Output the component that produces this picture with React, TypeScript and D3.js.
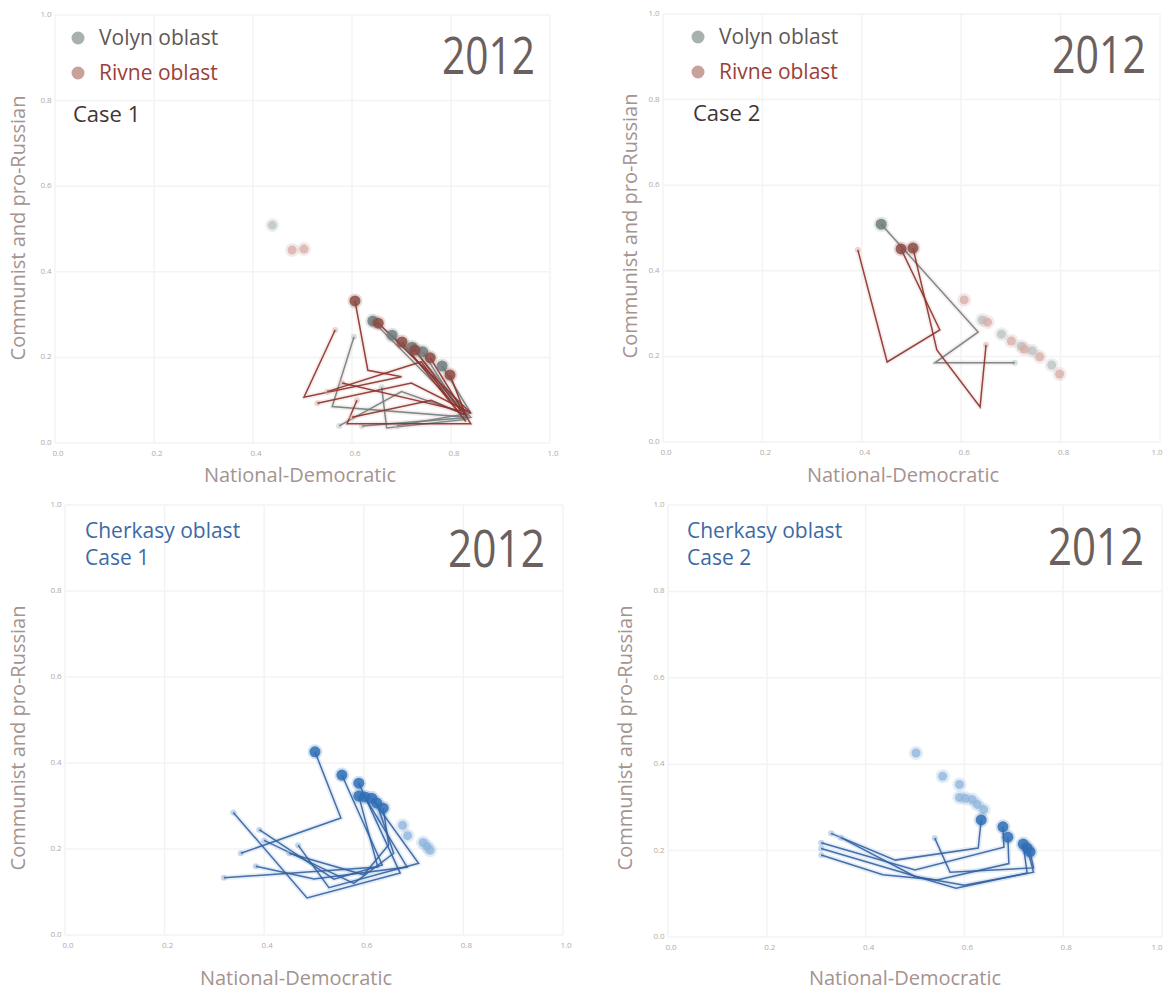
import React from "react";
import * as d3 from "d3";

type Pt = [number, number];
type Traj = Pt[];

const ticks = [0, 0.2, 0.4, 0.6, 0.8, 1.0];
const yearLabel = "2012";
const xTitle = "National-Democratic";
const yTitle = "Communist and pro-Russian";

// Volyn / Rivne, case 1 (oldest -> 2012)
const volynCase1: Traj[] = [
  [[0.604, 0.248], [0.56, 0.085], [0.835, 0.06], [0.642, 0.285]],
  [[0.574, 0.04], [0.70, 0.12], [0.835, 0.065], [0.681, 0.252]],
  [[0.62, 0.04], [0.84, 0.06], [0.721, 0.224]],
  [[0.66, 0.13], [0.67, 0.035], [0.83, 0.055], [0.743, 0.213]],
  [[0.69, 0.04], [0.84, 0.07], [0.782, 0.18]],
];
const rivneCase1: Traj[] = [
  [[0.566, 0.264], [0.503, 0.107], [0.70, 0.155], [0.632, 0.17], [0.606, 0.332]],
  [[0.53, 0.093], [0.72, 0.14], [0.84, 0.07], [0.653, 0.28]],
  [[0.55, 0.12], [0.74, 0.19], [0.83, 0.05], [0.701, 0.236]],
  [[0.58, 0.14], [0.82, 0.075], [0.727, 0.217]],
  [[0.61, 0.10], [0.59, 0.045], [0.84, 0.045], [0.758, 0.199]],
  [[0.60, 0.06], [0.76, 0.10], [0.83, 0.065], [0.798, 0.159]],
];
// Volyn / Rivne, case 2
const volynCase2: Traj[] = [
  [[0.708, 0.185], [0.547, 0.185], [0.634, 0.257], [0.439, 0.509]],
];
const rivneCase2: Traj[] = [
  [[0.392, 0.449], [0.451, 0.187], [0.557, 0.262], [0.479, 0.451]],
  [[0.650, 0.227], [0.638, 0.082], [0.551, 0.215], [0.503, 0.453]],
];
// Cherkasy
const cherkasyCase1: Traj[] = [
  [[0.353, 0.19], [0.554, 0.272], [0.502, 0.426]],
  [[0.39, 0.245], [0.54, 0.13], [0.637, 0.163], [0.556, 0.372]],
  [[0.338, 0.285], [0.486, 0.086], [0.673, 0.144], [0.590, 0.353]],
  [[0.319, 0.133], [0.628, 0.158], [0.590, 0.323]],
  [[0.383, 0.16], [0.50, 0.13], [0.687, 0.158], [0.602, 0.321]],
  [[0.468, 0.209], [0.53, 0.11], [0.71, 0.167], [0.616, 0.318]],
  [[0.40, 0.22], [0.58, 0.12], [0.66, 0.19], [0.626, 0.307]],
  [[0.45, 0.19], [0.60, 0.14], [0.65, 0.21], [0.639, 0.295]],
];
const cherkasyCase2: Traj[] = [
  [[0.33, 0.24], [0.46, 0.178], [0.628, 0.206], [0.634, 0.271]],
  [[0.31, 0.218], [0.50, 0.155], [0.68, 0.208], [0.678, 0.255]],
  [[0.31, 0.19], [0.435, 0.144], [0.545, 0.132], [0.69, 0.17], [0.688, 0.231]],
  [[0.31, 0.205], [0.583, 0.113], [0.727, 0.148], [0.719, 0.215]],
  [[0.35, 0.23], [0.50, 0.14], [0.60, 0.12], [0.74, 0.15], [0.727, 0.206]],
  [[0.54, 0.229], [0.571, 0.15], [0.74, 0.16], [0.733, 0.197]],
];

const C = {
  volyn: { line: "#6f7d80", dot: "#6f7b7c", ghost: "#b7c1c1", legend: "#a7b1b0", text: "#5f5856" },
  rivne: { line: "#8c2f29", dot: "#8a4a44", ghost: "#d6aca6", legend: "#c9a19b", text: "#9b3f38" },
  cherkasy: { line: "#34609e", dot: "#2f6db5", ghost: "#8db4dc", text: "#3c6aa5" },
};

type Group = { trajs: Traj[]; color: { line: string; dot: string; ghost: string } };
type PanelCfg = {
  x0: number; x1: number; y0: number; y1: number;
  groups: Group[]; ghosts: Group[];
  yearX: number; yearY: number; yearW: number;
  xTitleX: number; xTitleY: number; yTitleX: number; yTitleY: number;
  legend: "vr" | "ch"; legendX: number; legendY: number; caseLabel: string;
};

const panels: PanelCfg[] = [
  {
    x0: 55, x1: 550, y0: 443, y1: 15,
    groups: [{ trajs: volynCase1, color: C.volyn }, { trajs: rivneCase1, color: C.rivne }],
    ghosts: [{ trajs: volynCase2, color: C.volyn }, { trajs: rivneCase2, color: C.rivne }],
    yearX: 535, yearY: 74, yearW: 93,
    xTitleX: 300, xTitleY: 482, yTitleX: 25, yTitleY: 228,
    legend: "vr", legendX: 78, legendY: 38, caseLabel: "Case 1",
  },
  {
    x0: 663, x1: 1160, y0: 442, y1: 14,
    groups: [{ trajs: volynCase2, color: C.volyn }, { trajs: rivneCase2, color: C.rivne }],
    ghosts: [{ trajs: volynCase1, color: C.volyn }, { trajs: rivneCase1, color: C.rivne }],
    yearX: 1146, yearY: 73, yearW: 94,
    xTitleX: 903, xTitleY: 482, yTitleX: 637, yTitleY: 226,
    legend: "vr", legendX: 698, legendY: 37, caseLabel: "Case 2",
  },
  {
    x0: 65, x1: 563, y0: 935, y1: 505,
    groups: [{ trajs: cherkasyCase1, color: C.cherkasy }],
    ghosts: [{ trajs: cherkasyCase2, color: C.cherkasy }],
    yearX: 545, yearY: 567, yearW: 97,
    xTitleX: 296, xTitleY: 985, yTitleX: 25, yTitleY: 738,
    legend: "ch", legendX: 85, legendY: 538, caseLabel: "Case 1",
  },
  {
    x0: 668, x1: 1162, y0: 937, y1: 505,
    groups: [{ trajs: cherkasyCase2, color: C.cherkasy }],
    ghosts: [{ trajs: cherkasyCase1, color: C.cherkasy }],
    yearX: 1144, yearY: 565, yearW: 96,
    xTitleX: 905, xTitleY: 985, yTitleX: 632, yTitleY: 738,
    legend: "ch", legendX: 687, legendY: 538, caseLabel: "Case 2",
  },
];

const FONT = "'Open Sans', 'Noto Sans', sans-serif";

function Panel({ p }: { p: PanelCfg }) {
  const x = d3.scaleLinear().domain([0, 1]).range([p.x0, p.x1]);
  const y = d3.scaleLinear().domain([0, 1]).range([p.y0, p.y1]);
  const line = d3.line<Pt>().x((d) => x(d[0])).y((d) => y(d[1]));
  const isCh = p.legend === "ch";
  const halo = isCh ? "#c3d8ef" : "#ecd9d6";
  return (
    <g>
      {/* grid */}
      {ticks.map((t) => (
        <g key={"g" + t}>
          <line x1={x(t)} x2={x(t)} y1={y(0)} y2={y(1)} stroke="#f3f3f3" strokeWidth={1.5} />
          <line x1={x(0)} x2={x(1)} y1={y(t)} y2={y(t)} stroke="#f3f3f3" strokeWidth={1.5} />
        </g>
      ))}
      {/* tick labels */}
      {ticks.map((t) => (
        <text key={"xt" + t} x={Math.min(x(t) + 3, 1157)} y={y(0) + 13} fontSize={8} fill="#b3aaa8" textAnchor="middle" fontFamily={FONT}>
          {t.toFixed(1)}
        </text>
      ))}
      {ticks.map((t) => (
        <text key={"yt" + t} x={x(0) - 9} y={y(t) + 2} fontSize={8} fill="#b3aaa8" textAnchor="middle" fontFamily={FONT}>
          {t.toFixed(1)}
        </text>
      ))}
      {/* titles */}
      <text x={p.xTitleX} y={p.xTitleY} fontSize={20} fill="#a4938f" textAnchor="middle" fontFamily={FONT}>
        {xTitle}
      </text>
      <text
        transform={`translate(${p.yTitleX},${p.yTitleY}) rotate(-90)`}
        fontSize={20} fill="#a4938f" textAnchor="middle" fontFamily={FONT}
      >
        {yTitle}
      </text>
      {/* ghosts */}
      {p.ghosts.map((g, gi) =>
        g.trajs.map((t, ti) => {
          const last = t[t.length - 1];
          return (
            <g key={`gh${gi}-${ti}`}>
              <circle cx={x(last[0])} cy={y(last[1])} r={7} fill={g.color.ghost} opacity={0.25} />
              <circle cx={x(last[0])} cy={y(last[1])} r={4.5} fill={g.color.ghost} opacity={0.75} />
            </g>
          );
        })
      )}
      {/* trails */}
      {p.groups.map((g, gi) =>
        g.trajs.map((t, ti) => (
          <g key={`tr${gi}-${ti}`}>
            <path d={line(t) || ""} fill="none" stroke={halo} strokeWidth={5} opacity={0.45} strokeLinejoin="round" />
          </g>
        ))
      )}
      {p.groups.map((g, gi) =>
        g.trajs.map((t, ti) => (
          <g key={`tl${gi}-${ti}`}>
            <circle cx={x(t[0][0])} cy={y(t[0][1])} r={3} fill={g.color.ghost} opacity={0.5} />
            <path d={line(t) || ""} fill="none" stroke={g.color.line} strokeWidth={1.5} opacity={0.9} />
          </g>
        ))
      )}
      {/* current points */}
      {p.groups.map((g, gi) =>
        g.trajs.map((t, ti) => {
          const last = t[t.length - 1];
          return (
            <g key={`cp${gi}-${ti}`}>
              <circle cx={x(last[0])} cy={y(last[1])} r={7.5} fill={g.color.dot} opacity={0.2} />
              <circle cx={x(last[0])} cy={y(last[1])} r={5.5} fill={g.color.dot} opacity={0.85} />
            </g>
          );
        })
      )}
      {/* year */}
      <text
        x={p.yearX - p.yearW} y={p.yearY} fontSize={52} fill="#6b605d" fontFamily={FONT}
        textLength={p.yearW} lengthAdjust="spacingAndGlyphs"
      >
        {yearLabel}
      </text>
      {/* legend */}
      {p.legend === "vr" ? (
        <g fontFamily={FONT} fontSize={21}>
          <circle cx={p.legendX} cy={p.legendY} r={6.5} fill={C.volyn.legend} />
          <text x={p.legendX + 21} y={p.legendY + 7} fill={C.volyn.text}>Volyn oblast</text>
          <circle cx={p.legendX} cy={p.legendY + 35} r={6.5} fill={C.rivne.legend} />
          <text x={p.legendX + 21} y={p.legendY + 42} fill={C.rivne.text}>Rivne oblast</text>
          <text x={p.legendX - 5} y={p.legendY + 84} fill="#3f3535" fontSize={22}>{p.caseLabel}</text>
        </g>
      ) : (
        <g fontFamily={FONT} fontSize={21} fill={C.cherkasy.text}>
          <text x={p.legendX} y={p.legendY}>Cherkasy oblast</text>
          <text x={p.legendX} y={p.legendY + 27}>{p.caseLabel}</text>
        </g>
      )}
    </g>
  );
}

export default function App() {
  return (
    <svg
      width={1169}
      height={991}
      style={{ position: "absolute", left: 0, top: 0, background: "#ffffff" }}
    >
      <rect x={0} y={0} width={1169} height={991} fill="#ffffff" />
      {panels.map((p, i) => (
        <Panel key={i} p={p} />
      ))}
    </svg>
  );
}
